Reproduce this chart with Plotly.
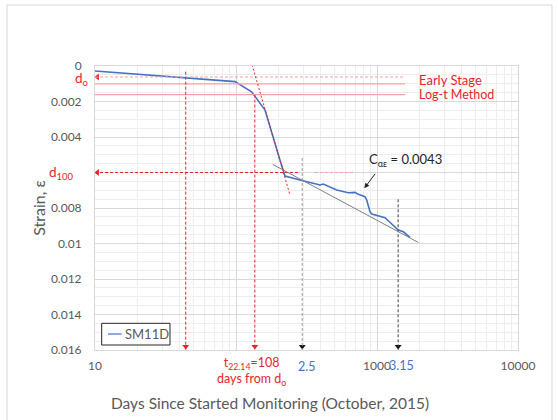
import plotly.graph_objects as go

# ---- SM11D settlement record ------------------------------------------------
days = [10, 98.4, 129, 160.6, 205, 216.5, 222.6, 284.4, 334.8, 394.2, 416,
        517.9, 625.8, 698.2, 736.7, 822, 845, 892, 917, 1021, 1140, 1203,
        1272, 1342, 1416, 1537, 1714]
strain = [0.00028, 0.00088, 0.00145, 0.00248, 0.00530, 0.00600, 0.00620,
          0.00642, 0.00655, 0.00670, 0.00665, 0.00699, 0.00714, 0.00712,
          0.00723, 0.00736, 0.00755, 0.00821, 0.00834, 0.00845, 0.00855,
          0.00872, 0.00890, 0.00911, 0.00924, 0.00934, 0.00965]

# ---- construction values ----------------------------------------------------
d0 = 0.00062            # initial strain
d100 = 0.0060           # end of primary consolidation
early_line = 0.00101    # early-stage reference
logt_line = 0.00161     # log-t method reference
ref_end = 1581          # extent of the horizontal reference lines
d100_end = 275          # extent of the d100 projection
d100_extra = (363, 697) # short extra d100 guide
t_start = 44            # start of primary stage (days)
t_logt = 136            # t22.14 from log-t method (days)
t_25 = 295              # log t = 2.5
t_315 = 10 ** 3.15      # log t = 3.15
primary_tangent = ([127.7, 241.5], [-0.00028, 0.00727])
secondary_tangent = ([182, 1963], [0.00554, 0.00994])
c_ae = 0.0043

x_ticks = [10, 100, 1000, 10000]
x_ticktext = ["10", "", "1000", "10000"]
x_minor = [k * 10 ** n for n in (1, 2, 3) for k in range(2, 10)]
y_ticks = [0, 0.002, 0.004, 0.006, 0.008, 0.010, 0.012, 0.014, 0.016]
y_ticktext = ["0", "0.002", "0.004", "", "0.008", "0.01", "0.012", "0.014", "0.016"]

FONT = "Lato"
GREY = "#595959"
RED = "#e3262b"
PINK = "#f3a3a3"
BLUE = "#4472c4"

fig = go.Figure()

fig.add_trace(go.Scatter(x=days, y=strain, mode="lines", name="SM11D",
                         line=dict(color=BLUE, width=1.6), showlegend=False))

shapes = []


def seg(x0, y0, x1, y1, color, width=1, dash=None):
    shapes.append(dict(type="line", xref="x", yref="y", x0=x0, y0=y0, x1=x1, y1=y1,
                       line=dict(color=color, width=width, dash=dash)))


# horizontal reference lines
seg(10, d0, ref_end, d0, PINK, 1, "3px,2px")
seg(10, early_line, ref_end, early_line, PINK, 1.2)
seg(10, logt_line, ref_end, logt_line, PINK, 1.2)
seg(10, d100, d100_end, d100, RED, 1, "3px,2px")
seg(d100_extra[0], d100, d100_extra[1], d100, PINK, 1, "3px,2px")

# vertical markers
seg(t_start, 0.00032, t_start, 0.016, RED, 1, "3px,2px")
seg(t_logt, logt_line, t_logt, 0.016, RED, 1, "3px,2px")
seg(t_25, 0.00518, t_25, 0.016, "#9a9a9a", 1, "3px,2px")
seg(t_315, 0.00751, t_315, 0.016, "#404040", 1, "3px,2px")

# tangents
seg(primary_tangent[0][0], primary_tangent[1][0], primary_tangent[0][1],
    primary_tangent[1][1], RED, 1, "2px,2px")
seg(secondary_tangent[0][0], secondary_tangent[1][0], secondary_tangent[0][1],
    secondary_tangent[1][1], "#808080", 1)

# outer chart frame
shapes.append(dict(type="rect", xref="paper", yref="paper", x0=-0.208, x1=1.0804,
                   y0=-0.27, y1=1.2148, line=dict(color="#d9d9d9", width=1),
                   layer="below"))

# legend box
shapes.append(dict(type="rect", xref="paper", yref="paper", x0=0.0158, x1=0.1773,
                   y0=0.0176, y1=0.094, line=dict(color="#262626", width=1),
                   fillcolor="white"))
shapes.append(dict(type="line", xref="paper", yref="paper", x0=0.0307, x1=0.0631,
                   y0=0.0563, y1=0.0563, line=dict(color=BLUE, width=1.2)))

# arrow heads
fig.add_trace(go.Scatter(x=[t_start, t_logt], y=[0.0158, 0.0158], mode="markers",
                         marker=dict(symbol="triangle-down", size=6, color=RED),
                         cliponaxis=False, showlegend=False, hoverinfo="skip"))
fig.add_trace(go.Scatter(x=[t_25, t_315], y=[0.0158, 0.0158], mode="markers",
                         marker=dict(symbol="triangle-down", size=6, color="#111111"),
                         cliponaxis=False, showlegend=False, hoverinfo="skip"))
fig.add_trace(go.Scatter(x=[10.4, 10.4], y=[d0, d100], mode="markers",
                         marker=dict(symbol="triangle-left", size=6, color=RED),
                         cliponaxis=False, showlegend=False, hoverinfo="skip"))

annotations = [
    dict(xref="paper", yref="paper", x=0.0662, y=0.0563, xanchor="left",
         yanchor="middle", text="SM11D", showarrow=False,
         font=dict(family=FONT, size=13, color=GREY)),
    dict(xref="x", yref="y", x=3.282, y=0.00078, xanchor="left", yanchor="middle",
         text="Early Stage", showarrow=False, font=dict(family=FONT, size=13, color=RED)),
    dict(xref="x", yref="y", x=3.282, y=0.00161, xanchor="left", yanchor="middle",
         text="Log-t Method", showarrow=False, font=dict(family=FONT, size=12.5, color=RED)),
    dict(xref="x", yref="y", x=3.199, y=0.0053, xanchor="center", yanchor="middle",
         text=f"C<sub>αε</sub> = {c_ae}", showarrow=False,
         font=dict(family=FONT, size=13, color="#262626")),
    dict(xref="x", yref="y", x=2.91, y=0.00689, text="", showarrow=True,
         ax=12, ay=-16, arrowhead=2, arrowsize=1, arrowwidth=1, arrowcolor="#262626"),
    dict(xref="paper", yref="y", x=-0.013, y=d0 + 0.0001, xanchor="right", yanchor="middle",
         text="d<sub>o</sub>", showarrow=False, font=dict(family=FONT, size=13.5, color=RED)),
    dict(xref="paper", yref="y", x=-0.045, y=d100, xanchor="right", yanchor="middle",
         text="d<sub>100</sub>", showarrow=False, font=dict(family=FONT, size=13.5, color=RED)),
    dict(xref="x", yref="paper", x=2.113, y=-0.012, xanchor="center", yanchor="top",
         text="t<sub>22.14</sub>=108<br>days from d<sub>o</sub>", showarrow=False,
         font=dict(family=FONT, size=12.5, color=RED)),
    dict(xref="x", yref="paper", x=2.5, y=-0.025, xanchor="center", yanchor="top",
         text="2.5", showarrow=False, font=dict(family=FONT, size=12.5, color=BLUE)),
    dict(xref="x", yref="paper", x=3.175, y=-0.022, xanchor="center", yanchor="top",
         text="3.15", showarrow=False, font=dict(family=FONT, size=12.5, color=BLUE)),
    # x-axis title
    dict(xref="paper", yref="paper", x=0.4137, y=-0.1866, xanchor="center",
         yanchor="middle", text="Days Since Started Monitoring (October, 2015)",
         showarrow=False, font=dict(family=FONT, size=15.5, color=GREY)),
]

fig.update_layout(
    width=558, height=420, autosize=False,
    margin=dict(l=95, r=40, t=66, b=70),
    paper_bgcolor="white", plot_bgcolor="white",
    font=dict(family=FONT, color=GREY),
    shapes=shapes, annotations=annotations, showlegend=False,
    xaxis=dict(type="log", range=[1, 4], tickvals=x_ticks, ticktext=x_ticktext,
               showgrid=True, gridcolor="#d9d9d9", gridwidth=1, zeroline=False,
               showline=True, linecolor="#d9d9d9", mirror=True, ticks="",
               tickfont=dict(family=FONT, size=12, color=GREY),
               ticklabelstandoff=5,
               minor=dict(tickvals=x_minor, showgrid=True, gridcolor="#eeeeee")),
    yaxis=dict(range=[0.016, 0], tickvals=y_ticks, ticktext=y_ticktext,
               showgrid=True, gridcolor="#d9d9d9", gridwidth=1, zeroline=False,
               showline=True, linecolor="#d9d9d9", mirror=True, ticks="",
               tickfont=dict(family=FONT, size=12, color=GREY),
               ticklabelstandoff=10,
               minor=dict(dtick=0.0005, showgrid=True, gridcolor="#eeeeee"),
               title=dict(text="Strain, ε", font=dict(family=FONT, size=16, color=GREY),
                          standoff=1)),
)

fig.write_html("out.html")
